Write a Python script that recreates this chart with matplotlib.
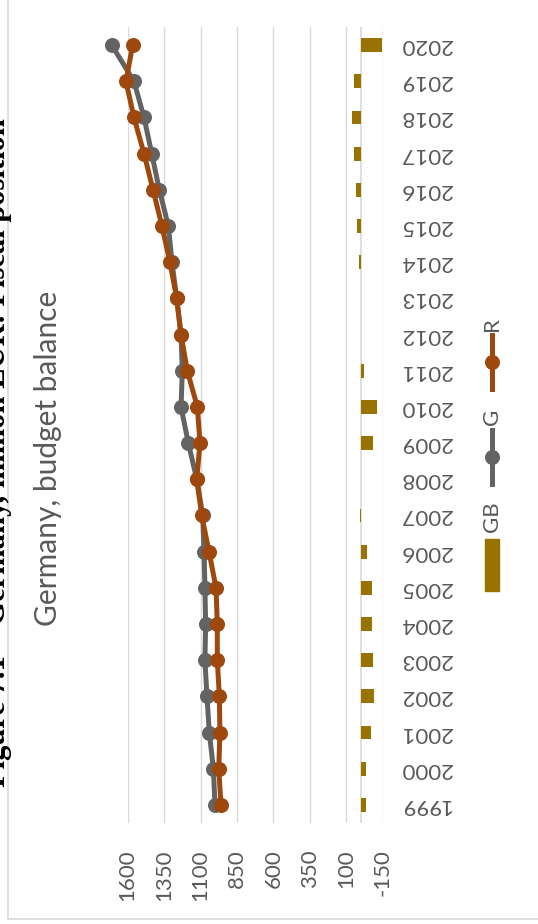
import matplotlib.pyplot as plt
from matplotlib.lines import Line2D
from matplotlib.patches import Rectangle

# data
years = list(range(1999, 2021))
revenue = [960, 975, 967, 971, 985, 985, 994, 1042, 1092, 1126, 1104,
           1122, 1191, 1234, 1264, 1310, 1365, 1426, 1488, 1557, 1612, 1566]
spending = [1001, 1012, 1040, 1056, 1070, 1065, 1070, 1076, 1085, 1126, 1184,
            1234, 1225, 1234, 1264, 1296, 1321, 1383, 1435, 1488, 1557, 1710]
balance = [-36, -33, -69, -87, -83, -78, -78, -40, 5, -1, -80,
           -114, -24, 0, -1, 16, 28, 36, 45, 62, 49, -147]
value_ticks = [-150, 100, 350, 600, 850, 1100, 1350, 1600]
legend_names = ['GB', 'G', 'R']

GOLD = '#997300'
GREY = '#636363'
RUST = '#9e480e'
TXT = '#595959'
GRID = '#d9d9d9'

plt.rcParams['font.family'] = ['Lato', 'DejaVu Sans']
plt.rcParams['axes.unicode_minus'] = False

W, H = 538, 924
fig = plt.figure(figsize=(W / 100, H / 100), dpi=100)


def fx(x):
    return x / W


def fy(y):
    return 1 - y / H


# the whole chart is drawn turned a quarter turn
ax = fig.add_axes([fx(127.7), fy(823), (382.7 - 127.7) / W, (823 - 27) / H])
pos = list(range(len(years)))
ax.barh(pos, balance, height=0.38, color=GOLD, zorder=2)
ax.plot(spending, pos, color=GREY, lw=3.6, marker='o', ms=9.8, zorder=3, clip_on=False)
ax.plot(revenue, pos, color=RUST, lw=3.6, marker='o', ms=9.8, zorder=4, clip_on=False)
ax.axvline(0, color=GRID, lw=1.2, zorder=1)

ax.set_xlim(1600, -150)
ax.set_ylim(-0.5, len(years) - 0.5)
ax.set_xticks(value_ticks)
ax.set_yticks(pos)
ax.set_yticklabels(years, rotation=180, va='center')
ax.yaxis.tick_right()
ax.tick_params(axis='y', length=0, pad=12.5, labelsize=16, labelcolor=TXT)
ax.tick_params(axis='x', length=0, pad=19, labelsize=16, labelcolor=TXT, labelrotation=90)
ax.grid(axis='x', color=GRID, lw=1)
ax.set_axisbelow(True)
for s in ax.spines.values():
    s.set_visible(False)

# chart frame (cut at top and right)
fig.add_artist(Line2D([fx(8), fx(8)], [fy(919), 1.0], transform=fig.transFigure, color=GRID, lw=1.2))
fig.add_artist(Line2D([fx(8), 1.0], [fy(919), fy(919)], transform=fig.transFigure, color=GRID, lw=1.2))

fig.text(fx(48), fy(458), 'Germany, budget balance', rotation=90, ha='center', va='center',
         fontsize=21.5, color=TXT)

# document caption behind the chart, mostly off the edge
fig.text(fx(5), fy(787), 'Figure 7.1 – Germany, million EUR: Fiscal position', rotation=90,
         rotation_mode='anchor', ha='left', va='baseline', family='Liberation Serif',
         weight='bold', fontsize=22, color='black')

# legend
fig.add_artist(Rectangle((fx(485), fy(591)), 14 / W, 52 / H, transform=fig.transFigure, color=GOLD))
fig.text(fx(492), fy(517), legend_names[0], rotation=90, ha='center', va='center', fontsize=16, color=TXT)
for name, col, yc, yt in [(legend_names[1], GREY, 457, 417), (legend_names[2], RUST, 362, 324)]:
    fig.add_artist(Line2D([fx(492), fx(492)], [fy(yc + 27), fy(yc - 27)], transform=fig.transFigure,
                          color=col, lw=3.6))
    fig.add_artist(Line2D([fx(492)], [fy(yc)], transform=fig.transFigure, color=col,
                          marker='o', ms=9.8))
    fig.text(fx(492), fy(yt), name, rotation=90, ha='center', va='center', fontsize=16, color=TXT)

fig.savefig('out.png', dpi=100)
